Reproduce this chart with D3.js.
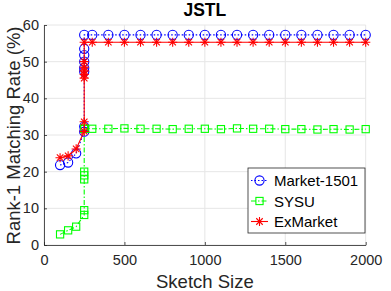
<!DOCTYPE html>
<html>
<head>
<meta charset="utf-8">
<script src="https://cdn.jsdelivr.net/npm/d3@7"></script>
<style>
  body { margin: 0; background: #fff; }
  text { font-family: "Liberation Sans", Arial, sans-serif; }
</style>
</head>
<body>
<div id="wrapper"></div>
<script>
// Data
const sketchSizes = [100, 150, 200, 250, 250, 250, 250, 250, 250, 250, 250, 300,
  400, 500, 600, 700, 800, 900, 1000, 1100, 1200, 1300, 1400, 1500, 1600, 1700, 1800, 1900, 2000];
const market1501 = [21.8, 22.5, 25.0, 30.9, 32.3, 47.3, 48.3, 50.0, 51.8, 53.5, 57.3, 57.3,
  57.3, 57.3, 57.3, 57.3, 57.3, 57.3, 57.3, 57.3, 57.3, 57.3, 57.3, 57.3, 57.3, 57.3, 57.3, 57.3, 57.3];
const sysu = [2.9, 4.0, 5.0, 8.2, 9.5, 17.9, 19.0, 20.0, 31.7, 31.7,
  31.7, 31.7, 31.7, 31.8, 31.7, 31.7, 31.6, 31.7, 31.7, 31.6, 31.8, 31.7, 31.7, 31.6, 31.6, 31.5, 31.6, 31.5, 31.6];
const exMarket = [23.8, 24.3, 26.2, 31.0, 33.6, 45.5, 46.5, 47.5, 48.5, 50.0, 55.3, 55.3,
  55.3, 55.3, 55.3, 55.3, 55.3, 55.3, 55.3, 55.3, 55.3, 55.3, 55.3, 55.3, 55.3, 55.3, 55.3, 55.3, 55.3];
const xTicks = [0, 500, 1000, 1500, 2000];
const yTicks = [0, 10, 20, 30, 40, 50, 60];

const seriesList = [
  { name: 'Market-1501', values: market1501, color: '#0000ff', dash: '1.5,2', marker: 'circle' },
  { name: 'SYSU', values: sysu, color: '#00ff00', dash: '5,2,1.5,2', marker: 'square' },
  { name: 'ExMarket', values: exMarket, color: '#ff0000', dash: null, marker: 'star' },
];

const dimensions = {
  width: 391,
  height: 291,
  margin: { top: 25, right: 25.3, bottom: 46, left: 44 },
};
dimensions.boundedWidth = dimensions.width - dimensions.margin.left - dimensions.margin.right;
dimensions.boundedHeight = dimensions.height - dimensions.margin.top - dimensions.margin.bottom;

const xScale = d3.scaleLinear().domain([0, 2000]).range([0, dimensions.boundedWidth]);
const yScale = d3.scaleLinear().domain([0, 60]).range([dimensions.boundedHeight, 0]);

const wrapper = d3.select('#wrapper')
  .append('svg')
  .attr('width', dimensions.width)
  .attr('height', dimensions.height);

const bounds = wrapper.append('g')
  .attr('transform', `translate(${dimensions.margin.left}, ${dimensions.margin.top})`);

// Grid
bounds.append('g')
  .selectAll('line')
  .data(xTicks)
  .join('line')
  .attr('x1', (d) => xScale(d)).attr('x2', (d) => xScale(d))
  .attr('y1', 0).attr('y2', dimensions.boundedHeight)
  .attr('stroke', '#e6e6e6').attr('stroke-width', 1);
bounds.append('g')
  .selectAll('line')
  .data(yTicks)
  .join('line')
  .attr('x1', 0).attr('x2', dimensions.boundedWidth)
  .attr('y1', (d) => yScale(d)).attr('y2', (d) => yScale(d))
  .attr('stroke', '#e6e6e6').attr('stroke-width', 1);

// Axes
const xAxis = d3.axisBottom(xScale).tickValues(xTicks).tickFormat(d3.format('d'))
  .tickSizeInner(-3).tickSizeOuter(0).tickPadding(10);
const xAxisGroup = bounds.append('g')
  .attr('transform', `translate(0, ${dimensions.boundedHeight})`)
  .call(xAxis);
const yAxis = d3.axisLeft(yScale).tickValues(yTicks).tickFormat(d3.format('d'))
  .tickSizeInner(-3).tickSizeOuter(0).tickPadding(5);
const yAxisGroup = bounds.append('g').call(yAxis);

[xAxisGroup, yAxisGroup].forEach((g) => {
  g.select('.domain').attr('stroke', '#262626').attr('stroke-width', 0.8);
  g.selectAll('.tick line').attr('stroke', '#262626').attr('stroke-width', 0.8);
  g.selectAll('.tick text')
    .attr('fill', '#262626')
    .style('font-size', '14.5px')
    .style('font-family', '"Liberation Sans", Arial, sans-serif');
});

// Labels
wrapper.append('text')
  .attr('x', dimensions.margin.left + dimensions.boundedWidth / 2)
  .attr('y', 287.5)
  .attr('text-anchor', 'middle')
  .attr('fill', '#262626')
  .style('font-size', '18.5px')
  .text('Sketch Size');

wrapper.append('text')
  .attr('transform', `translate(20, ${dimensions.margin.top + dimensions.boundedHeight / 2 + 0.5}) rotate(-90)`)
  .attr('text-anchor', 'middle')
  .attr('fill', '#262626')
  .style('font-size', '18.5px')
  .text('Rank-1 Matching Rate (%)');

wrapper.append('text')
  .attr('x', dimensions.margin.left + dimensions.boundedWidth / 2)
  .attr('y', 15.5)
  .attr('text-anchor', 'middle')
  .attr('fill', '#000')
  .style('font-size', '17.5px')
  .style('font-weight', 'bold')
  .text('JSTL');

// Markers
function drawMarker(g, type, color) {
  if (type === 'circle') {
    g.append('circle').attr('r', 4.6).attr('fill', 'none').attr('stroke', color).attr('stroke-width', 1.1);
  } else if (type === 'square') {
    g.append('rect').attr('x', -3.6).attr('y', -3.6).attr('width', 7.2).attr('height', 7.2)
      .attr('fill', 'none').attr('stroke', color).attr('stroke-width', 1.1);
  } else {
    const r = 4.6, q = r * 0.707;
    g.append('path')
      .attr('d', `M${-r},0L${r},0M0,${-r}L0,${r}M${-q},${-q}L${q},${q}M${-q},${q}L${q},${-q}`)
      .attr('stroke', color).attr('stroke-width', 1.1);
  }
}

const lineGenerator = d3.line()
  .x((d) => xScale(d[0]))
  .y((d) => yScale(d[1]));

seriesList.forEach((s) => {
  const pts = sketchSizes.map((x, i) => [x, s.values[i]]);
  const g = bounds.append('g');
  g.append('path')
    .attr('d', lineGenerator(pts))
    .attr('fill', 'none')
    .attr('stroke', s.color)
    .attr('stroke-width', 1.1)
    .attr('stroke-dasharray', s.dash);
  g.selectAll('g.m')
    .data(pts)
    .join('g')
    .attr('class', 'm')
    .attr('transform', (d) => `translate(${xScale(d[0])}, ${yScale(d[1])})`)
    .each(function () { drawMarker(d3.select(this), s.marker, s.color); });
});

// Legend
const legend = wrapper.append('g').attr('transform', 'translate(248, 168)');
legend.append('rect')
  .attr('width', 117).attr('height', 65)
  .attr('fill', '#fff').attr('stroke', '#262626').attr('stroke-width', 0.8);
seriesList.forEach((s, i) => {
  const row = legend.append('g').attr('transform', `translate(0, ${12.5 + i * 20.5})`);
  row.append('line')
    .attr('x1', 3).attr('x2', 20)
    .attr('stroke', s.color).attr('stroke-width', 1.1)
    .attr('stroke-dasharray', s.dash);
  const m = row.append('g').attr('transform', 'translate(11.5, 0)');
  drawMarker(m, s.marker, s.color);
  row.append('text')
    .attr('x', 26).attr('y', 5.5)
    .attr('fill', '#000')
    .style('font-size', '15px')
    .text(s.name);
});
</script>
</body>
</html>
